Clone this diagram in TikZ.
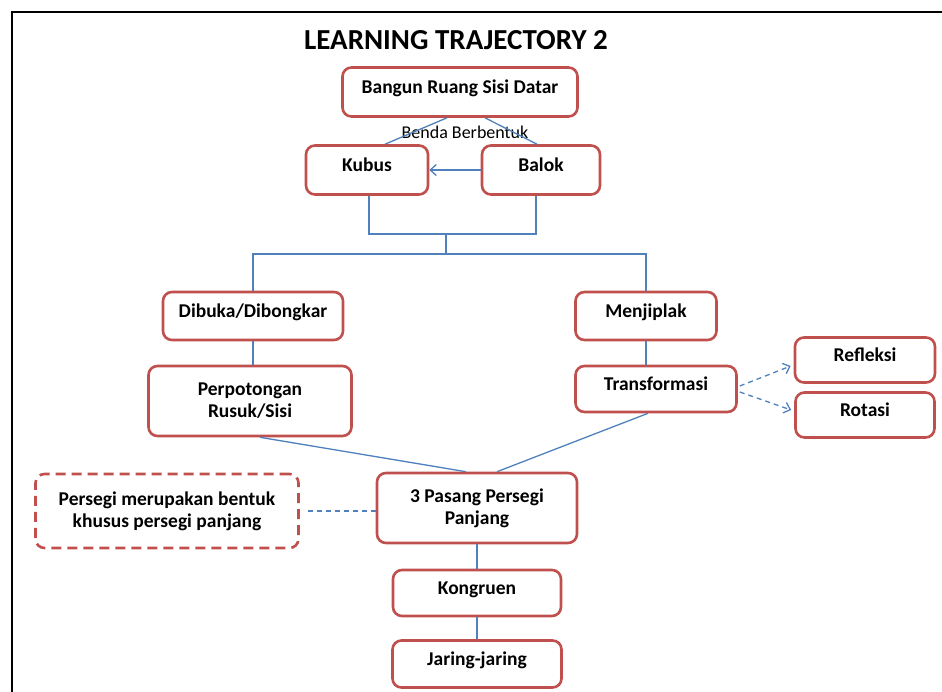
\documentclass[tikz,border=0pt]{standalone}
\usepackage{fontspec}
\setmainfont{Carlito}
\usetikzlibrary{arrows.meta,calc}
\definecolor{boxred}{HTML}{C0504D}
\definecolor{lineblue}{HTML}{4F81BD}
\tikzset{
  box/.style={draw=boxred, line width=2.6pt, rounded corners=9pt, fill=white,
    font=\fontsize{19.5}{22}\selectfont\bfseries, align=center, inner sep=0pt,
    text height=14pt, text depth=12pt},
  twoline/.style={text height=, text depth=},
  dbox/.style={box, dash pattern=on 10pt off 6pt},
  conn/.style={draw=lineblue, line width=1.3pt},
  dconn/.style={conn, dash pattern=on 5pt off 4pt},
  tip/.style={-{Straight Barb[length=6pt,width=11pt,line width=1.3pt]}}
}
\begin{document}
\begin{tikzpicture}[x=1pt,y=-1pt]
\useasboundingbox (0,0) rectangle (942,691);
\fill[white] (0,0) rectangle (942,691);
\draw[line width=2pt] (12,700) -- (12,12) -- (950,12);

\node[font=\fontsize{29}{32}\selectfont\bfseries] (title) at (456,40) {LEARNING TRAJECTORY 2};

\node[box, minimum width=235pt, minimum height=49pt] (bangun) at (460,92) {Bangun Ruang Sisi Datar};
\node[box, minimum width=122pt, minimum height=49pt] (kubus) at (367,170) {Kubus};
\node[box, minimum width=118pt, minimum height=49pt] (balok) at (541,170) {Balok};
\node[box, minimum width=180pt, minimum height=48pt] (dibuka) at (253,316) {Dibuka/Dibongkar};
\node[box, minimum width=141pt, minimum height=48pt] (menjiplak) at (646,316) {Menjiplak};
\node[box, twoline, minimum width=203pt, minimum height=70pt] (perpot) at (250,401) {Perpotongan\\Rusuk/Sisi};
\node[box, minimum width=161pt, minimum height=46pt] (transf) at (656,389) {Transformasi};
\node[box, minimum width=140pt, minimum height=45pt] (refleksi) at (865,360) {Refleksi};
\node[box, minimum width=139pt, minimum height=45pt] (rotasi) at (865,415) {Rotasi};
\node[box, twoline, minimum width=200pt, minimum height=70pt] (pasang) at (477,508) {3 Pasang Persegi\\Panjang};
\node[dbox, twoline, minimum width=263pt, minimum height=74pt] (persegi) at (167,511) {Persegi merupakan bentuk\\khusus persegi panjang};
\node[box, minimum width=168pt, minimum height=46pt] (kongruen) at (477,593) {Kongruen};
\node[box, minimum width=169pt, minimum height=47pt] (jaring) at (477,664) {Jaring-jaring};

\node[font=\fontsize{18}{20}\selectfont] (benda) at (465,132) {Benda Berbentuk};

\coordinate (j1) at (446,234);
\coordinate (j2) at (446,254);

\draw[conn] ([xshift=-13pt]bangun.south) -- ([xshift=18pt]kubus.north);
\draw[conn] ([xshift=25pt]bangun.south) -- ([xshift=-4pt]balok.north);
\draw[conn, tip] (balok.west) -- (kubus.east);
\draw[conn] ([xshift=2pt]kubus.south) |- (j1) -| ([xshift=-5pt]balok.south);
\draw[conn] (j1) -- (j2);
\draw[conn] (dibuka.north) |- (j2) -| (menjiplak.north);
\draw[conn] (dibuka.south) -- (dibuka.south |- perpot.north);
\draw[conn] (menjiplak.south) -- (menjiplak.south |- transf.north);
\draw[conn] ([xshift=10pt]perpot.south) -- ([xshift=-11pt]pasang.north);
\draw[conn] ([xshift=-8pt]transf.south) -- ([xshift=20pt]pasang.north);
\draw[dconn, tip] ([yshift=3pt,xshift=2pt]transf.east) -- ([yshift=-6pt,xshift=-3pt]refleksi.west);
\draw[dconn, tip] ([yshift=-3pt,xshift=2pt]transf.east) -- ([yshift=5pt,xshift=-3pt]rotasi.west);
\draw[dconn, shorten <=8pt] (persegi.east) -- (pasang.west |- persegi.east);
\draw[conn] (pasang.south) -- (kongruen.north);
\draw[conn] (kongruen.south) -- (jaring.north);
\end{tikzpicture}
\end{document}
